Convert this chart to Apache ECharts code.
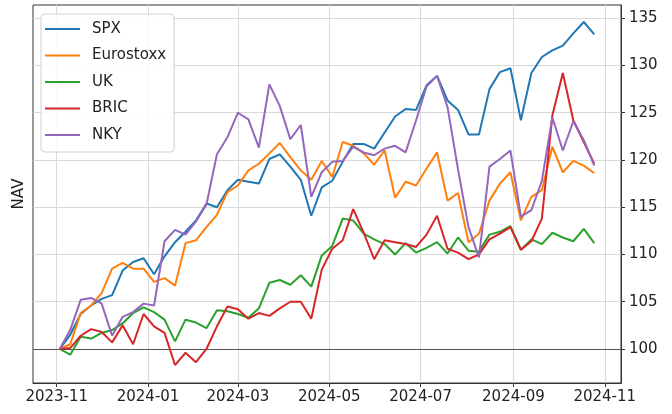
<!DOCTYPE html>
<html>
<head>
<meta charset="utf-8">
<script src="https://cdn.jsdelivr.net/npm/echarts@6/dist/echarts.min.js"></script>
<style>
html,body{margin:0;padding:0;background:#fff;}
#chart{width:672px;height:414px;}
</style>
</head>
<body>
<div id="chart"></div>
<script>
const dates = ['2023-11-03','2023-11-10','2023-11-17','2023-11-24','2023-12-01','2023-12-08','2023-12-15','2023-12-22','2023-12-29',
'2024-01-05','2024-01-12','2024-01-19','2024-01-26','2024-02-02','2024-02-09','2024-02-16','2024-02-23',
'2024-03-01','2024-03-08','2024-03-15','2024-03-22','2024-03-29','2024-04-05','2024-04-12','2024-04-19','2024-04-26',
'2024-05-03','2024-05-10','2024-05-17','2024-05-24','2024-05-31','2024-06-07','2024-06-14','2024-06-21','2024-06-28',
'2024-07-05','2024-07-12','2024-07-19','2024-07-26','2024-08-02','2024-08-09','2024-08-16','2024-08-23','2024-08-30',
'2024-09-06','2024-09-13','2024-09-20','2024-09-27','2024-10-04','2024-10-11','2024-10-18','2024-10-25'];

const spx = [100.0,101.5,103.7,104.6,105.3,105.7,108.3,109.2,109.6,107.9,109.8,111.3,112.4,113.6,115.4,115.0,116.8,117.9,117.7,117.5,
120.1,120.6,119.3,117.9,114.1,117.1,117.8,119.8,121.7,121.7,121.2,122.9,124.6,125.4,125.3,127.9,128.9,126.3,125.3,122.7,
122.7,127.5,129.3,129.7,124.2,129.2,130.9,131.6,132.1,133.4,134.6,133.3];
const eurostoxx = [100.0,100.5,103.8,104.6,105.9,108.5,109.1,108.5,108.5,107.1,107.5,106.7,111.2,111.5,112.9,114.2,116.6,117.3,118.9,119.6,
120.7,121.8,120.3,118.9,117.9,119.9,118.2,121.9,121.5,120.7,119.5,121.0,116.0,117.7,117.3,119.1,120.8,115.7,116.5,111.3,
112.2,115.7,117.5,118.7,113.6,116.1,116.8,121.4,118.7,119.9,119.4,118.6];
const uk = [100.0,99.4,101.3,101.1,101.7,102.0,102.7,103.8,104.4,103.9,103.1,100.8,103.1,102.8,102.2,104.1,104.0,103.7,103.3,104.3,
107.0,107.3,106.8,107.8,106.6,109.9,110.9,113.8,113.6,112.2,111.6,111.1,110.0,111.2,110.2,110.7,111.3,110.1,111.8,110.4,
110.3,112.1,112.4,113.0,110.5,111.6,111.1,112.3,111.8,111.4,112.7,111.2];
const bric = [100.0,100.1,101.4,102.1,101.8,100.7,102.5,100.5,103.7,102.4,101.7,98.3,99.6,98.6,100.0,102.4,104.5,104.2,103.2,103.8,
103.5,104.3,105.0,105.0,103.2,108.4,110.6,111.5,114.8,112.3,109.5,111.5,111.3,111.1,110.8,112.1,114.1,110.6,110.2,109.5,
110.0,111.6,112.2,112.9,110.5,111.4,113.8,124.7,129.2,124.2,121.9,119.6];
const nky = [100.0,102.0,105.2,105.4,104.8,101.4,103.4,103.9,104.8,104.6,111.4,112.6,112.1,113.5,115.3,120.6,122.4,125.0,124.3,121.3,
128.0,125.7,122.2,123.7,116.1,118.7,119.8,119.9,121.4,120.8,120.5,121.2,121.5,120.8,124.2,127.8,128.9,125.6,119.0,112.9,
109.7,119.3,120.1,121.0,114.0,114.7,117.8,124.5,121.0,124.1,122.1,119.4];

const seriesNames = ['SPX','Eurostoxx','UK','BRIC','NKY'];
const seriesValues = [spx, eurostoxx, uk, bric, nky];
const colors = ['#1f77b4','#ff7f0e','#2ca02c','#d62728','#9467bd'];
const yTicks = [100,105,110,115,120,125,130,135];
const xTickMonths = ['2023-11-01','2024-01-01','2024-03-01','2024-05-01','2024-07-01','2024-09-01','2024-11-01'];
const baseline = 100;

function ts(s){const p=s.split('-').map(Number);return Date.UTC(p[0],p[1]-1,p[2]);}
const DAY = 86400000;
const xMin = ts(dates[0]) - 17.85*DAY;
const xMax = ts(dates[dates.length-1]) + 17.85*DAY;
const xTickVals = xTickMonths.map(ts);
const FONT = 'DejaVu Sans';
const TXT = '#222';
const FS = 15;

const gridStyle = {color: '#d9d9d9', type: 'solid', width: 1};
const refLines = [];
xTickVals.forEach(v => refLines.push({xAxis: v, lineStyle: gridStyle}));
yTicks.filter(v => v !== baseline).forEach(v => refLines.push({yAxis: v, lineStyle: gridStyle}));
refLines.push({yAxis: baseline, lineStyle: {color: '#555', type: 'solid', width: 1.2}});

const series = seriesNames.map((name, k) => ({
  name: name,
  type: 'line',
  data: dates.map((d, i) => [ts(d), seriesValues[k][i]]),
  showSymbol: false,
  symbol: 'none',
  lineStyle: {color: colors[k], width: 2},
  itemStyle: {color: colors[k]},
  z: 3,
  animation: false,
  markLine: k === 0 ? {
    silent: true, symbol: 'none', animation: false, z: 1,
    label: {show: false},
    data: refLines
  } : undefined
}));

const chart = echarts.init(document.getElementById('chart'), null, {renderer: 'canvas'});
chart.setOption({
  animation: false,
  backgroundColor: '#fff',
  textStyle: {fontFamily: FONT},
  grid: {left: 33, right: 51, top: 5, bottom: 31, show: true, borderColor: '#333', borderWidth: 1, backgroundColor: 'transparent'},
  legend: {
    data: seriesNames,
    orient: 'vertical',
    left: 41, top: 14,
    icon: 'path://M0,0H35V2H0Z',
    itemWidth: 35, itemHeight: 16, itemGap: 10.5,
    padding: [7, 8, 9, 4],
    backgroundColor: 'rgba(255,255,255,0.85)',
    borderColor: '#d0d0d0', borderWidth: 1, borderRadius: 4,
    textStyle: {fontFamily: FONT, fontSize: FS, color: TXT, padding: [0, 0, 0, 7], lineHeight: 16},
    selectedMode: false
  },
  xAxis: {
    type: 'value',
    min: xMin, max: xMax,
    axisLine: {show: true, lineStyle: {color: '#333', width: 1}},
    axisTick: {show: true, length: 4, customValues: xTickVals, lineStyle: {color: '#333'}},
    axisLabel: {
      customValues: xTickVals, margin: 7, fontFamily: FONT, fontSize: FS, color: TXT,
      formatter: function (v) { const d = new Date(v); return d.getUTCFullYear() + '-' + String(d.getUTCMonth() + 1).padStart(2, '0'); }
    },
    splitLine: {show: false}
  },
  yAxis: {
    type: 'value',
    position: 'right',
    min: 96.4, max: 136.4,
    axisLine: {show: true, lineStyle: {color: '#333', width: 1}},
    axisTick: {show: true, length: 4, customValues: yTicks, lineStyle: {color: '#333'}},
    axisLabel: {customValues: yTicks, margin: 8, fontFamily: FONT, fontSize: FS, color: TXT},
    splitLine: {show: false}
  },
  graphic: [{
    type: 'text', x: 19, y: 194, rotation: Math.PI / 2,
    style: {text: 'NAV', fontFamily: FONT, fontSize: FS, fill: TXT, align: 'center', verticalAlign: 'middle'}
  }],
  series: series
});
</script>
</body>
</html>
